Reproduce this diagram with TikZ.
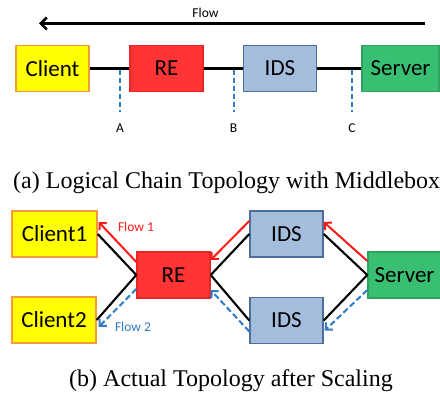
\documentclass[tikz,border=0pt]{standalone}
\usepackage{fontspec}
\setmainfont{Liberation Serif}
\newfontfamily\carlito{Carlito}
\usetikzlibrary{arrows.meta}
\definecolor{cliFill}{HTML}{FFFF00}
\definecolor{cliLine}{HTML}{F39A3C}
\definecolor{reFill}{HTML}{FF3535}
\definecolor{reLine}{HTML}{E8262A}
\definecolor{idsFill}{HTML}{A5BDDD}
\definecolor{idsLine}{HTML}{4D6D9A}
\definecolor{srvFill}{HTML}{38BF72}
\definecolor{srvLine}{HTML}{2FA35E}
\definecolor{flowRed}{HTML}{FF1A1A}
\definecolor{flowBlue}{HTML}{2F7BC4}
\tikzset{
  box/.style={draw, line width=1.4pt, minimum width=73pt, minimum height=46pt, inner sep=0pt,
    font=\carlito\fontsize{23}{25}\selectfont},
  client/.style={box, fill=cliFill, draw=cliLine},
  rebox/.style={box, fill=reFill, draw=reLine},
  idsbox/.style={box, fill=idsFill, draw=idsLine},
  srvbox/.style={box, fill=srvFill, draw=srvLine},
  link/.style={line width=2.1pt, black},
  probe/.style={line width=2pt, flowBlue, dash pattern=on 5pt off 3pt},
  flowred/.style={line width=2pt, flowRed, -{Straight Barb[length=5pt,width=10pt]}},
  flowblue/.style={line width=2pt, flowBlue, dash pattern=on 6pt off 3pt, -{Straight Barb[length=5pt,width=10pt]}},
  small/.style={font=\carlito\fontsize{13.5}{15}\selectfont},
  caption/.style={font=\fontsize{24}{26}\selectfont, anchor=base west, inner sep=0pt}
}
\begin{document}
\begin{tikzpicture}[x=1pt, y=-1pt]
\useasboundingbox (0,0) rectangle (440,398);
% ---------- (a) ----------
\coordinate (fs) at (425,23.5);
\coordinate (fe) at (39,23.5);
\draw[line width=2.5pt, -{Straight Barb[length=6pt,width=12pt]}] (fs) -- (fe);
\node[small] (flowlbl) at (205.5,12.5) {Flow};

\node[client] (cl) at (52.5,68.5) {Client};
\node[rebox] (re) at (166.5,68.5) {RE};
\node[idsbox] (ids) at (280,68.5) {IDS};
\node[srvbox, minimum width=77pt] (srv) at (400.5,68.5) {Server};

\draw[link] (cl) -- (re);
\draw[link] (re) -- (ids);
\draw[link] (ids) -- (srv);

\node[small] (la) at (120,128.5) {A};
\node[small] (lb) at (233.5,128.5) {B};
\node[small] (lc) at (352,128.5) {C};
\coordinate (pa) at (120,70.5);
\coordinate (pb) at (233.5,70.5);
\coordinate (pc) at (352,70.5);
\coordinate (qa) at (120,112);
\coordinate (qb) at (233.5,112);
\coordinate (qc) at (352,112);
\draw[probe] (pa) -- (qa);
\draw[probe] (pb) -- (qb);
\draw[probe] (pc) -- (qc);

\node[caption] (capa) at (13,189) {(a) Logical Chain Topology with Middlebox};

% ---------- (b) ----------
\node[client, minimum width=85pt] (c1) at (54.5,234) {Client1};
\node[client, minimum width=84pt] (c2) at (54,320) {Client2};
\node[rebox] (re2) at (173.5,275) {RE};
\node[idsbox] (ids1) at (286.5,234) {IDS};
\node[idsbox] (ids2) at (286.5,320.5) {IDS};
\node[srvbox] (srv2) at (404.5,275) {Server};

\draw[link] (c1.east) -- (re2.west);
\draw[link] (c2.east) -- (re2.west);
\draw[link] (re2.east) -- (ids1.west);
\draw[link] (re2.east) -- (ids2.west);
\draw[link] (ids1.east) -- (srv2.west);
\draw[link] (ids2.east) -- (srv2.west);

\draw[flowred] ([yshift=13pt]re2.west) -- ([yshift=12pt,xshift=1pt]c1.east);
\draw[flowred] ([yshift=13pt]ids1.west) -- ([yshift=15pt]re2.east);
\draw[flowred] ([yshift=14pt]srv2.west) -- ([yshift=12pt]ids1.east);

\draw[flowblue] ([yshift=-14pt]re2.west) -- ([yshift=-7pt,xshift=2pt]c2.east);
\draw[flowblue] ([yshift=-11pt]ids2.west) -- ([yshift=-15pt]re2.east);
\draw[flowblue] ([yshift=-15pt]srv2.west) -- ([yshift=-10pt,xshift=1pt]ids2.east);

\node[small, text=flowRed] (f1) at (136,227) {Flow 1};
\node[small, text=flowBlue] (f2) at (133,327) {Flow 2};

\node[caption] (capb) at (69,387) {(b) Actual Topology after Scaling};
\end{tikzpicture}
\end{document}
